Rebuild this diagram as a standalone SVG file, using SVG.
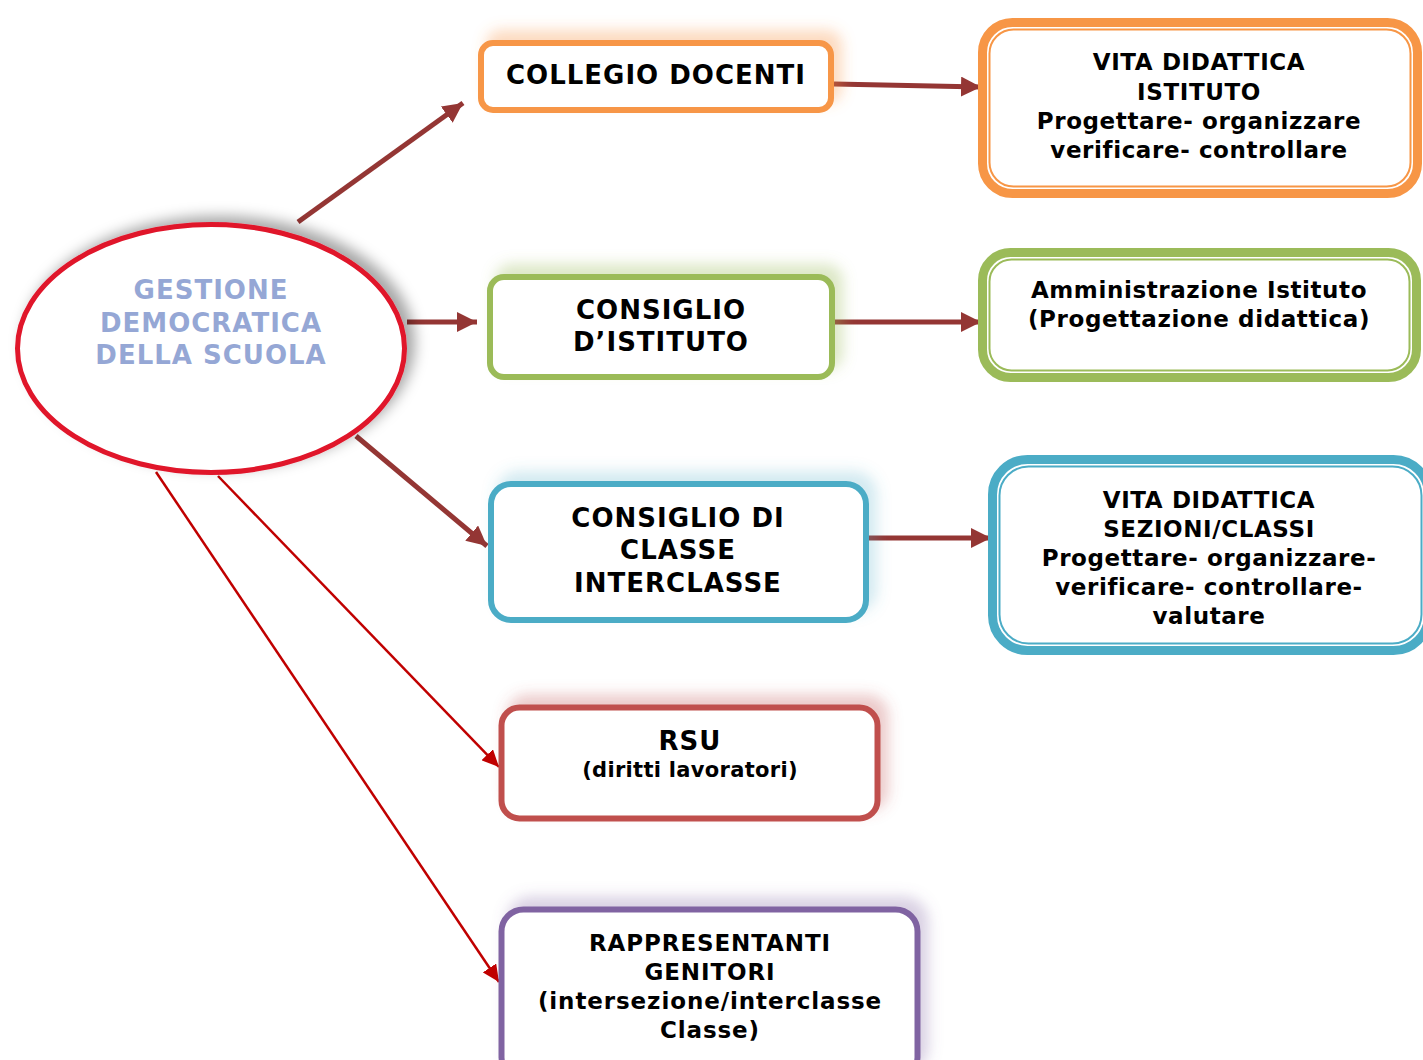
<svg xmlns="http://www.w3.org/2000/svg" width="1423" height="1060" viewBox="0 0 1423 1060">
<style>
  text { font-family: "DejaVu Sans", Verdana, "Liberation Sans", sans-serif; font-weight: bold; text-anchor: middle; fill: #000; }
  .t26 { font-size: 26px; letter-spacing: 1px; }
  .t22 { font-size: 23px; letter-spacing: 0.6px; }
  .t22w { font-size: 23px; letter-spacing: 0.9px; }
  .t20 { font-size: 21px; letter-spacing: 0.3px; }
  .title { fill: #95A7D5; font-size: 26px; letter-spacing: 1px; }
  .conn { stroke: #943634; stroke-width: 5; fill: none; }
  .thin { stroke: #C00000; stroke-width: 2.5; fill: none; }
  .box { fill: #fff; stroke-width: 6; }
  .outer { fill: #fff; stroke-width: 9; }
  .inner { fill: none; stroke-width: 2; }
</style>
<defs>
  <marker id="ah" markerUnits="userSpaceOnUse" markerWidth="22" markerHeight="20" refX="20" refY="10" orient="auto">
    <path d="M0,0 L20,10 L0,20 Z" fill="#943634"/>
  </marker>
  <marker id="ahr" markerUnits="userSpaceOnUse" markerWidth="18" markerHeight="16" refX="17" refY="8" orient="auto">
    <path d="M0,0 L17,8 L0,16 Z" fill="#C00000"/>
  </marker>
  <filter id="shGray" x="-20%" y="-30%" width="140%" height="160%">
    <feDropShadow dx="8" dy="-6" stdDeviation="7" flood-color="#000" flood-opacity="0.35"/>
  </filter>
  <filter id="shOrange" x="-20%" y="-50%" width="140%" height="200%">
    <feDropShadow dx="8" dy="-10" stdDeviation="7" flood-color="#F79646" flood-opacity="0.35"/>
  </filter>
  <filter id="shGreen" x="-20%" y="-50%" width="140%" height="200%">
    <feDropShadow dx="8" dy="-10" stdDeviation="7" flood-color="#9BBB59" flood-opacity="0.35"/>
  </filter>
  <filter id="shBlue" x="-20%" y="-50%" width="140%" height="200%">
    <feDropShadow dx="8" dy="-10" stdDeviation="7" flood-color="#4BACC6" flood-opacity="0.25"/>
  </filter>
  <filter id="shRed" x="-20%" y="-50%" width="140%" height="200%">
    <feDropShadow dx="8" dy="-10" stdDeviation="7" flood-color="#C0504D" flood-opacity="0.3"/>
  </filter>
  <filter id="shPurple" x="-20%" y="-50%" width="140%" height="200%">
    <feDropShadow dx="8" dy="-10" stdDeviation="7" flood-color="#8064A2" flood-opacity="0.3"/>
  </filter>
</defs>

<g id="connectors">
  <line class="conn" x1="298" y1="222" x2="463" y2="103" marker-end="url(#ah)"/>
  <line class="conn" x1="407" y1="322" x2="477" y2="322" marker-end="url(#ah)"/>
  <line class="conn" x1="356" y1="436" x2="487" y2="546" marker-end="url(#ah)"/>
  <line class="conn" x1="834" y1="84" x2="981" y2="87" marker-end="url(#ah)"/>
  <line class="conn" x1="834" y1="322" x2="981" y2="322" marker-end="url(#ah)"/>
  <line class="conn" x1="868" y1="538" x2="991" y2="538" marker-end="url(#ah)"/>
  <line class="thin" x1="218" y1="476" x2="499" y2="767" marker-end="url(#ahr)"/>
  <line class="thin" x1="156" y1="472" x2="499" y2="982" marker-end="url(#ahr)"/>
</g>

<g id="gestione">
  <ellipse cx="211" cy="348.5" rx="193.5" ry="124" fill="#fff" stroke="#E0142A" stroke-width="5" filter="url(#shGray)"/>
  <text class="title" x="211" y="299">GESTIONE</text>
  <text class="title" x="211" y="332">DEMOCRATICA</text>
  <text class="title" x="211" y="364">DELLA SCUOLA</text>
</g>

<g id="collegio">
  <rect class="box" x="481" y="43" width="350" height="67" rx="12" stroke="#F79646" filter="url(#shOrange)"/>
  <text class="t26" x="656" y="84">COLLEGIO DOCENTI</text>
</g>

<g id="vita-istituto">
  <rect class="outer" x="982.5" y="22.5" width="435" height="171" rx="30" stroke="#F79646"/>
  <rect class="inner" x="989.5" y="29.5" width="421" height="157" rx="24" stroke="#F79646"/>
  <text class="t22" x="1199" y="70">VITA DIDATTICA</text>
  <text class="t22" x="1199" y="100">ISTITUTO</text>
  <text class="t22" x="1199" y="129">Progettare- organizzare</text>
  <text class="t22" x="1199" y="158">verificare- controllare</text>
</g>

<g id="consiglio-istituto">
  <rect class="box" x="490" y="277" width="342" height="100" rx="14" stroke="#9BBB59" filter="url(#shGreen)"/>
  <text class="t26" x="661" y="319">CONSIGLIO</text>
  <text class="t26" x="661" y="351">D’ISTITUTO</text>
</g>

<g id="amministrazione">
  <rect class="outer" x="982.5" y="252.5" width="434" height="125" rx="28" stroke="#9BBB59"/>
  <rect class="inner" x="989.5" y="259.5" width="420" height="111" rx="22" stroke="#9BBB59"/>
  <text class="t22" x="1199" y="298">Amministrazione Istituto</text>
  <text class="t22" x="1199" y="327">(Progettazione didattica)</text>
</g>

<g id="consiglio-classe">
  <rect class="box" x="491" y="484" width="375" height="136" rx="20" stroke="#4BACC6" filter="url(#shBlue)"/>
  <text class="t26" x="678" y="527">CONSIGLIO DI</text>
  <text class="t26" x="678" y="559">CLASSE</text>
  <text class="t26" x="678" y="592">INTERCLASSE</text>
</g>

<g id="vita-sezioni">
  <rect class="outer" x="992.5" y="459.5" width="436" height="191" rx="35" stroke="#4BACC6"/>
  <rect class="inner" x="999.5" y="466.5" width="422" height="177" rx="29" stroke="#4BACC6"/>
  <text class="t22" x="1209" y="508">VITA DIDATTICA</text>
  <text class="t22" x="1209" y="537">SEZIONI/CLASSI</text>
  <text class="t22" x="1209" y="566">Progettare- organizzare-</text>
  <text class="t22" x="1209" y="595">verificare- controllare-</text>
  <text class="t22" x="1209" y="624">valutare</text>
</g>

<g id="rsu">
  <rect class="box" x="501.5" y="707.5" width="376" height="111" rx="18" stroke="#C0504D" filter="url(#shRed)"/>
  <text class="t26" x="690" y="750">RSU</text>
  <text class="t20" x="690" y="777">(diritti lavoratori)</text>
</g>

<g id="genitori">
  <rect class="box" x="501.5" y="909.5" width="416" height="170" rx="22" stroke="#8064A2" filter="url(#shPurple)"/>
  <text class="t22w" x="710" y="951">RAPPRESENTANTI</text>
  <text class="t22w" x="710" y="980">GENITORI</text>
  <text class="t22w" x="710" y="1009">(intersezione/interclasse</text>
  <text class="t22w" x="710" y="1038">Classe)</text>
</g>
</svg>
